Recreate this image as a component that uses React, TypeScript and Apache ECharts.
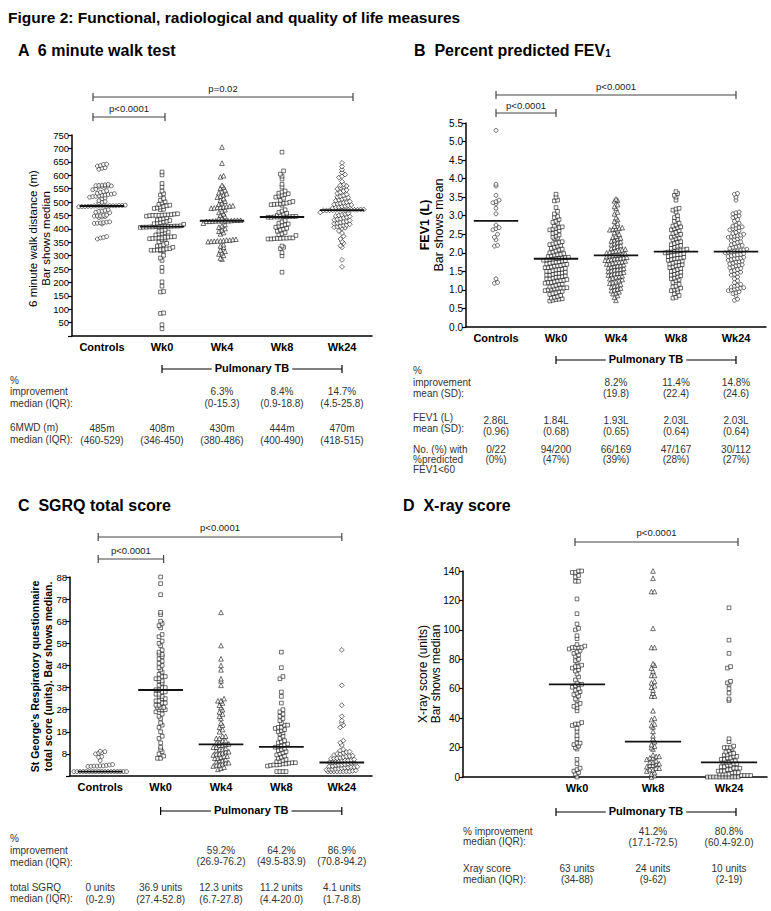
import React, { useEffect, useRef } from 'react';
import * as echarts from 'echarts';

const FONT = '"Liberation Sans", Arial, Helvetica, sans-serif';

// ---------- Categories ----------
const CATS_5 = ['Controls', 'Wk0', 'Wk4', 'Wk8', 'Wk24'];
const CATS_D = ['', 'Wk0', 'Wk8', 'Wk24'];

// ---------- Panel A: 6 minute walk distance (m) ----------
const A_CONTROLS = [640, 636, 628, 622, 626, 634, 641, 566, 563, 561, 560, 558, 562, 564, 559, 556, 560, 546, 542, 548, 536, 539, 531, 528, 526, 523, 520, 525, 529, 532, 518, 515, 521, 512, 502, 505, 497, 499, 487, 485, 485, 486, 484, 483, 485, 487, 488, 485, 484, 486, 483, 482, 485, 486, 471, 468, 466, 462, 460, 465, 451, 448, 446, 447, 444, 450, 442, 448, 426, 422, 420, 421, 423, 425, 418, 371, 366, 362, 368];
const A_WK0 = [612, 601, 569, 556, 541, 531, 526, 513, 506, 501, 497, 491, 488, 486, 483, 481, 478, 476, 473, 471, 456, 453, 451, 450, 449, 452, 455, 450, 447, 452, 450, 441, 438, 436, 433, 431, 428, 426, 423, 421, 419, 417, 411, 409, 408, 407, 406, 408, 410, 409, 405, 408, 407, 406, 409, 410, 396, 393, 391, 388, 386, 383, 381, 377, 371, 369, 366, 363, 361, 365, 368, 370, 366, 364, 360, 351, 346, 341, 338, 336, 331, 326, 323, 321, 319, 320, 322, 325, 318, 320, 301, 291, 282, 256, 241, 202, 186, 166, 164, 86, 84, 42, 27];
const A_WK4 = [705, 645, 598, 594, 562, 556, 552, 545, 539, 535, 531, 527, 522, 518, 513, 507, 503, 497, 492, 486, 483, 481, 478, 480, 482, 485, 477, 471, 466, 461, 456, 451, 446, 441, 438, 432, 430, 430, 428, 430, 432, 428, 430, 431, 429, 430, 432, 421, 416, 411, 406, 401, 396, 391, 386, 381, 361, 358, 356, 355, 352, 354, 358, 360, 355, 353, 341, 336, 331, 321, 316, 311, 306, 301, 291, 287];
const A_WK8 = [686, 616, 604, 596, 586, 566, 556, 541, 537, 533, 531, 528, 525, 522, 518, 514, 506, 502, 499, 496, 493, 490, 488, 492, 495, 491, 471, 466, 461, 458, 455, 452, 450, 446, 445, 444, 443, 445, 444, 446, 443, 444, 445, 431, 426, 421, 418, 415, 412, 410, 406, 402, 399, 396, 391, 386, 381, 378, 375, 366, 364, 362, 365, 363, 364, 362, 365, 366, 336, 331, 326, 311, 299, 238];
const A_WK24 = [765, 646, 632, 621, 610, 602, 596, 591, 576, 566, 562, 560, 557, 553, 549, 545, 541, 536, 532, 528, 524, 521, 519, 517, 514, 511, 508, 505, 502, 499, 497, 495, 493, 491, 489, 487, 485, 483, 481, 479, 477, 472, 471, 470, 470, 469, 471, 470, 468, 472, 470, 469, 471, 470, 468, 461, 458, 455, 452, 450, 448, 446, 444, 441, 438, 436, 433, 431, 428, 426, 423, 421, 419, 417, 414, 412, 410, 408, 406, 404, 402, 392, 384, 372, 362, 352, 346, 337, 331, 284, 258];
const A_BARS = [485, 408, 430, 444, 470];
const A_IMPROVE = ['', '', '6.3%', '8.4%', '14.7%'];
const A_IMPROVE_IQR = ['', '', '(0-15.3)', '(0.9-18.8)', '(4.5-25.8)'];
const A_MED = ['485m', '408m', '430m', '444m', '470m'];
const A_MED_IQR = ['(460-529)', '(346-450)', '(380-486)', '(400-490)', '(418-515)'];

// ---------- Panel B: FEV1 (L) ----------
const B_CONTROLS = [5.3, 3.85, 3.8, 3.55, 3.42, 3.38, 3.35, 3.32, 3.2, 3.05, 2.75, 2.68, 2.62, 2.5, 2.42, 2.35, 2.2, 2.18, 1.3, 1.2, 1.18, 2.65];
const B_WK0 = [3.58, 3.5, 3.42, 3.4, 3.22, 3.12, 3.05, 2.98, 2.95, 2.9, 2.85, 2.82, 2.8, 2.72, 2.7, 2.68, 2.66, 2.64, 2.62, 2.6, 2.55, 2.52, 2.48, 2.45, 2.42, 2.4, 2.38, 2.3, 2.28, 2.26, 2.24, 2.22, 2.2, 2.18, 2.15, 2.12, 2.1, 2.08, 2.05, 2.02, 2.0, 1.98, 1.96, 1.95, 1.94, 1.92, 1.9, 1.88, 1.87, 1.86, 1.85, 1.84, 1.83, 1.82, 1.81, 1.8, 1.79, 1.78, 1.76, 1.75, 1.74, 1.72, 1.7, 1.69, 1.68, 1.66, 1.65, 1.64, 1.62, 1.6, 1.6, 1.58, 1.56, 1.55, 1.54, 1.52, 1.5, 1.5, 1.48, 1.46, 1.45, 1.44, 1.42, 1.4, 1.4, 1.38, 1.36, 1.35, 1.34, 1.32, 1.3, 1.3, 1.28, 1.26, 1.25, 1.24, 1.22, 1.2, 1.2, 1.18, 1.16, 1.15, 1.12, 1.1, 1.08, 1.06, 1.05, 1.05, 1.04, 1.03, 1.02, 1.0, 0.98, 0.96, 0.95, 0.92, 0.9, 0.88, 0.85, 0.82, 0.8, 0.78, 0.76, 0.75, 0.74, 0.72, 0.7];
const B_WK4 = [3.45, 3.42, 3.4, 3.3, 3.25, 3.2, 3.1, 3.05, 2.95, 2.9, 2.85, 2.8, 2.72, 2.68, 2.66, 2.65, 2.64, 2.62, 2.6, 2.55, 2.5, 2.45, 2.42, 2.4, 2.38, 2.35, 2.32, 2.3, 2.28, 2.25, 2.22, 2.2, 2.18, 2.15, 2.12, 2.1, 2.08, 2.06, 2.05, 2.04, 2.02, 2.0, 1.98, 1.96, 1.95, 1.94, 1.93, 1.92, 1.9, 1.88, 1.87, 1.86, 1.85, 1.84, 1.82, 1.8, 1.8, 1.78, 1.76, 1.75, 1.74, 1.72, 1.7, 1.7, 1.68, 1.66, 1.65, 1.64, 1.62, 1.6, 1.58, 1.56, 1.55, 1.54, 1.52, 1.5, 1.48, 1.46, 1.45, 1.44, 1.42, 1.4, 1.38, 1.36, 1.35, 1.32, 1.3, 1.28, 1.25, 1.22, 1.2, 1.18, 1.15, 1.12, 1.1, 1.08, 1.05, 1.02, 1.0, 0.98, 0.95, 0.92, 0.9, 0.85, 0.8, 0.72];
const B_WK8 = [3.65, 3.6, 3.55, 3.5, 3.42, 3.2, 3.18, 3.15, 3.1, 3.0, 2.95, 2.9, 2.85, 2.8, 2.75, 2.72, 2.7, 2.68, 2.65, 2.62, 2.6, 2.55, 2.52, 2.5, 2.48, 2.45, 2.42, 2.4, 2.38, 2.35, 2.3, 2.28, 2.25, 2.22, 2.2, 2.18, 2.15, 2.12, 2.1, 2.08, 2.06, 2.05, 2.04, 2.03, 2.02, 2.0, 1.98, 1.96, 1.95, 1.94, 1.92, 1.9, 1.88, 1.86, 1.85, 1.84, 1.82, 1.8, 1.78, 1.76, 1.75, 1.72, 1.7, 1.68, 1.66, 1.65, 1.62, 1.6, 1.58, 1.55, 1.52, 1.5, 1.48, 1.45, 1.42, 1.4, 1.38, 1.35, 1.32, 1.3, 1.28, 1.25, 1.2, 1.15, 1.1, 1.08, 1.05, 1.02, 1.0, 0.98, 0.95, 0.9, 0.85, 0.8, 0.78];
const B_WK24 = [3.6, 3.58, 3.5, 3.42, 3.1, 3.08, 3.05, 3.0, 2.98, 2.95, 2.9, 2.85, 2.8, 2.75, 2.72, 2.7, 2.68, 2.66, 2.65, 2.62, 2.6, 2.55, 2.52, 2.5, 2.48, 2.46, 2.45, 2.44, 2.42, 2.4, 2.38, 2.35, 2.32, 2.3, 2.28, 2.25, 2.22, 2.2, 2.18, 2.16, 2.15, 2.12, 2.1, 2.08, 2.06, 2.05, 2.04, 2.03, 2.02, 2.0, 1.98, 1.96, 1.95, 1.94, 1.92, 1.9, 1.88, 1.86, 1.85, 1.84, 1.82, 1.8, 1.78, 1.76, 1.75, 1.72, 1.7, 1.68, 1.66, 1.65, 1.62, 1.6, 1.58, 1.55, 1.52, 1.5, 1.48, 1.45, 1.42, 1.4, 1.35, 1.3, 1.25, 1.2, 1.15, 1.12, 1.1, 1.08, 1.06, 1.05, 1.04, 1.02, 1.0, 0.98, 0.95, 0.92, 0.9, 0.85, 0.75, 0.72];
const B_BARS = [2.86, 1.84, 1.93, 2.03, 2.03];
const B_IMPROVE = ['', '', '8.2%', '11.4%', '14.8%'];
const B_IMPROVE_SD = ['', '', '(19.8)', '(22.4)', '(24.6)'];
const B_MEAN = ['2.86L', '1.84L', '1.93L', '2.03L', '2.03L'];
const B_MEAN_SD = ['(0.96)', '(0.68)', '(0.65)', '(0.64)', '(0.64)'];
const B_LOW = ['0/22', '94/200', '66/169', '47/167', '30/112'];
const B_LOW_PCT = ['(0%)', '(47%)', '(39%)', '(28%)', '(27%)'];

// ---------- Panel C: SGRQ total score ----------
const C_CONTROLS = [9, 8.5, 8, 8.3, 9.2, 6.5, 6.8, 5, 3, 2.6, 2.4, 2.5, 2.3, 2.5, 2.6, 2.8, 3.2, 0, 0, 0, 0, 0, 0, 0, 0, 0, 0, 0, 0, 0, 0, 0, 0, 0, 0];
const C_WK0 = [88, 85, 80, 72, 71, 68, 67, 66, 65, 62, 61, 59, 58, 57, 55, 54, 53, 53, 52, 51, 50, 49, 48, 47, 46, 45, 44, 43, 43, 42, 42, 41, 41, 40, 39, 38, 38, 37, 37, 36, 36, 35, 35, 34, 34, 33, 33, 32, 32, 31, 31, 30, 30, 29, 29, 29, 28, 28, 28, 27, 26, 25, 24, 22, 21, 20, 18, 16, 15, 13, 11, 10, 9, 8, 7, 6, 6];
const C_WK4 = [72, 57, 51, 48, 46, 42, 41, 39, 33, 32, 32, 31, 30, 29, 28, 27, 26, 25, 24, 22, 21, 20, 19, 18, 16, 16, 15, 15, 14, 14, 13, 13, 12.5, 12.3, 12, 12, 11, 11, 10.5, 10, 10, 9.5, 9, 9, 8.5, 8, 8, 7.5, 7, 7, 6.5, 6, 6, 5.5, 5, 5, 4.5, 4, 4, 3.5, 3, 3, 2.5, 2, 1.5, 1];
const C_WK8 = [54, 47, 43, 42, 36, 34, 31, 28, 27, 26, 25, 24, 23, 22, 21, 21, 20, 20, 19.5, 19, 18.5, 18, 17.5, 17, 16, 15, 14, 13.5, 13, 12.5, 12, 11.5, 11.2, 11, 10.5, 10, 9.5, 9, 8.5, 8, 7.5, 7, 6.5, 6, 5.5, 5, 4.5, 4.5, 4, 4, 3.8, 3.5, 3.5, 3.2, 3, 3, 2.8, 2.5, 0, 0, 0, 0];
const C_WK24 = [55, 39, 30, 25, 23, 22, 21, 20, 14, 13, 12, 10, 9.5, 9, 8.8, 8.5, 8, 8, 7.5, 7.2, 7, 6.8, 6.5, 6.2, 6, 6, 5.8, 5.5, 5.2, 5, 5, 4.8, 4.5, 4.3, 4.1, 4.1, 4, 3.8, 3.5, 3.3, 3, 3, 2.8, 2.5, 2.4, 2.2, 2, 2, 1.8, 1.7, 1.5, 1.3, 1.2, 1, 1, 0.8, 0.5, 0.3, 0, 0, 0, 0, 0, 0, 0, 0];
const C_BARS = [0, 36.9, 12.3, 11.2, 4.1];
const C_IMPROVE = ['', '', '59.2%', '64.2%', '86.9%'];
const C_IMPROVE_IQR = ['', '', '(26.9-76.2)', '(49.5-83.9)', '(70.8-94.2)'];
const C_MED = ['0 units', '36.9 units', '12.3 units', '11.2 units', '4.1 units'];
const C_MED_IQR = ['(0-2.9)', '(27.4-52.8)', '(6.7-27.8)', '(4.4-20.0)', '(1.7-8.8)'];

// ---------- Panel D: X-ray score ----------
const D_WK0 = [140, 140, 139, 139, 137, 136, 133, 133, 121, 111, 104, 101, 100, 96, 94, 90, 89, 88, 88, 88, 88, 87, 86, 85, 84, 83, 82, 80, 79, 78, 76, 75, 75, 74, 73, 72, 70, 68, 66, 64, 63, 63, 62, 61, 60, 59, 58, 57, 56, 55, 53, 52, 50, 49, 48, 47, 45, 37, 36, 36, 35, 33, 31, 28, 26, 23, 23, 22, 21, 20, 19, 12, 9, 6, 5, 4, 3, 2, 0];
const D_WK8 = [140, 135, 126, 126, 101, 88, 88, 77, 76, 74, 72, 69, 69, 65, 64, 62, 61, 59, 57, 55, 55, 45, 40, 39, 36, 35, 34, 31, 28, 26, 24, 22, 21, 20, 19, 15, 14, 14, 13, 13, 12, 11, 10, 10, 9, 9, 8, 8, 7, 6, 6, 5, 5, 4, 3, 2, 1, 0];
const D_WK24 = [115, 93, 84, 75, 74, 65, 64, 63, 60, 57, 53, 52, 26, 24, 21, 20, 20, 20, 19, 18, 17, 16, 16, 15, 15, 14, 14, 13, 13, 12, 12, 11, 11, 10, 10, 10, 9, 9, 8, 8, 7, 7, 6, 6, 6, 5, 5, 4, 4, 4, 3, 3, 3, 2, 2, 2, 2, 1, 1, 1, 1, 0, 0, 0, 0, 0, 0, 0, 0, 0, 0, 0];
const D_BARS = [63, 24, 10];
const D_IMPROVE = ['', '', '41.2%', '80.8%'];
const D_IMPROVE_IQR = ['', '', '(17.1-72.5)', '(60.4-92.0)'];
const D_MED = ['', '63 units', '24 units', '10 units'];
const D_MED_IQR = ['', '(34-88)', '(9-62)', '(2-19)'];

type Panel = {
  left: number; top: number; width: number; height: number;
  cats: string[]; yMin: number; yMax: number; yInterval: number;
  groups: { idx: number; vals: number[]; symbol: string }[];
  bars: { idx: number; v: number }[];
  fmt: (v: number) => string;
  tickFont: number;
  tickFilter?: (i: number) => boolean;
};

const PANELS: Panel[] = [
  {
    left: 72, top: 135, width: 300, height: 201, cats: CATS_5, yMin: 0, yMax: 750, yInterval: 50,
    groups: [
      { idx: 0, vals: A_CONTROLS, symbol: 'circle' },
      { idx: 1, vals: A_WK0, symbol: 'rect' },
      { idx: 2, vals: A_WK4, symbol: 'triangle' },
      { idx: 3, vals: A_WK8, symbol: 'rect' },
      { idx: 4, vals: A_WK24, symbol: 'diamond' },
    ],
    bars: A_BARS.map((v, i) => ({ idx: i, v })),
    fmt: (v) => (v === 0 ? '' : String(v)),
    tickFont: 9.5,
  },
  {
    left: 466, top: 123, width: 300, height: 204, cats: CATS_5, yMin: 0, yMax: 5.5, yInterval: 0.5,
    groups: [
      { idx: 0, vals: B_CONTROLS, symbol: 'circle' },
      { idx: 1, vals: B_WK0, symbol: 'rect' },
      { idx: 2, vals: B_WK4, symbol: 'triangle' },
      { idx: 3, vals: B_WK8, symbol: 'rect' },
      { idx: 4, vals: B_WK24, symbol: 'circle' },
    ],
    bars: B_BARS.map((v, i) => ({ idx: i, v })),
    fmt: (v) => v.toFixed(1),
    tickFont: 10,
  },
  {
    left: 70, top: 577, width: 302, height: 199, cats: CATS_5, yMin: -2, yMax: 88, yInterval: 10,
    groups: [
      { idx: 0, vals: C_CONTROLS, symbol: 'circle' },
      { idx: 1, vals: C_WK0, symbol: 'rect' },
      { idx: 2, vals: C_WK4, symbol: 'triangle' },
      { idx: 3, vals: C_WK8, symbol: 'rect' },
      { idx: 4, vals: C_WK24, symbol: 'diamond' },
    ],
    bars: C_BARS.map((v, i) => ({ idx: i, v })),
    fmt: (v) => (v < 0 ? '' : String(Math.round(v))),
    tickFont: 9.5,
  },
  {
    left: 463, top: 571, width: 304, height: 206, cats: CATS_D, yMin: 0, yMax: 140, yInterval: 20,
    groups: [
      { idx: 1, vals: D_WK0, symbol: 'rect' },
      { idx: 2, vals: D_WK8, symbol: 'triangle' },
      { idx: 3, vals: D_WK24, symbol: 'rect' },
    ],
    bars: D_BARS.map((v, i) => ({ idx: i + 1, v })),
    fmt: (v) => String(v),
    tickFont: 10,
    tickFilter: (i) => i !== 0,
  },
];

const SYMBOL_SIZE: Record<string, number> = { circle: 3.9, rect: 3.7, triangle: 4.6, diamond: 4.9 };

function catX(p: Panel, i: number) {
  return p.left + ((i + 0.5) * p.width) / p.cats.length;
}

// Prism-like column scatter: points are grouped into pixel rows and spread sideways.
function swarm(p: Panel, idx: number, vals: number[]) {
  const pxPerUnit = p.height / (p.yMax - p.yMin);
  const band = p.width / p.cats.length;
  const rowH = 3.8;
  const colW = 3.1;
  const bins = new Map<number, number[]>();
  vals.slice().sort((a, b) => a - b).forEach((v) => {
    const k = Math.round(((v - p.yMin) * pxPerUnit) / rowH);
    if (!bins.has(k)) bins.set(k, []);
    bins.get(k)!.push(v);
  });
  const out: number[][] = [];
  bins.forEach((arr) => {
    arr.forEach((v, i) => {
      const off = ((i - (arr.length - 1) / 2) * colW) / band;
      out.push([idx + off, v]);
    });
  });
  return out;
}

function buildOption() {
  const grid: any[] = [];
  const xAxis: any[] = [];
  const yAxis: any[] = [];
  const series: any[] = [];
  PANELS.forEach((p, k) => {
    grid.push({ left: p.left, top: p.top, width: p.width, height: p.height, containLabel: false, outerBoundsMode: 'none' });
    xAxis.push({
      type: 'category', gridIndex: k, data: p.cats, position: 'bottom',
      axisLine: { onZero: false, lineStyle: { color: '#000', width: 1.5 } },
      axisTick: { alignWithLabel: true, length: 4, lineStyle: { color: '#000', width: 1.2 }, interval: p.tickFilter ? (i: number) => p.tickFilter!(i) : 0 },
      axisLabel: { fontFamily: FONT, fontWeight: 'bold', fontSize: 11, color: '#000', margin: 5, interval: 0 },
      splitLine: { show: false },
    });
    xAxis.push({ type: 'value', gridIndex: k, min: -0.5, max: p.cats.length - 0.5, show: false });
    yAxis.push({
      type: 'value', gridIndex: k, min: p.yMin, max: p.yMax, interval: p.yInterval,
      axisLine: { show: true, onZero: false, lineStyle: { color: '#000', width: 1.5 } },
      axisTick: { show: true, length: 4, lineStyle: { color: '#000', width: 1.2 } },
      axisLabel: { fontFamily: FONT, fontSize: p.tickFont, color: '#000', margin: 3, formatter: p.fmt },
      splitLine: { show: false },
    });
    p.groups.forEach((g) => {
      series.push({
        type: 'scatter', xAxisIndex: 2 * k + 1, yAxisIndex: k, silent: true, z: 2,
        symbol: g.symbol, symbolSize: SYMBOL_SIZE[g.symbol],
        itemStyle: { color: '#fff', borderColor: '#000', borderWidth: 0.7 },
        data: swarm(p, g.idx, g.vals),
      });
    });
    p.bars.forEach((b) => {
      series.push({
        type: 'line', xAxisIndex: 2 * k + 1, yAxisIndex: k, silent: true, z: 3,
        symbol: 'none', lineStyle: { color: '#111', width: 1.8 },
        data: [[b.idx - 0.37, b.v], [b.idx + 0.37, b.v]],
      });
    });
  });

  const g: any[] = [];
  const text = (x: number, y: number, t: string, size: number, o: any = {}) => {
    g.push({
      type: 'text', x, y, rotation: o.rot || 0, silent: true,
      style: {
        text: t, font: `${o.bold ? 'bold ' : ''}${size}px ${FONT}`, fill: o.color || '#000',
        textAlign: o.align || 'left', textVerticalAlign: 'middle',
        backgroundColor: o.bg, padding: o.bg ? [0, 3] : undefined, rich: o.rich,
      },
    });
  };
  const line = (x1: number, y1: number, x2: number, y2: number, color = '#222', w = 1.2) => {
    g.push({ type: 'line', silent: true, shape: { x1, y1, x2, y2 }, style: { stroke: color, lineWidth: w } });
  };
  const bracket = (x1: number, x2: number, y: number, label: string, ty: number) => {
    line(x1, y, x2, y, '#444', 1.2);
    line(x1, y - 4, x1, y + 4, '#444', 1.2);
    line(x2, y - 4, x2, y + 4, '#444', 1.2);
    text((x1 + x2) / 2, ty, label, 9.5, { align: 'center', color: '#222' });
  };
  const tbBracket = (x1: number, x2: number, y: number) => {
    line(x1, y, x2, y, '#000', 1.2);
    line(x1, y - 4, x1, y + 4, '#000', 1.2);
    line(x2, y - 4, x2, y + 4, '#000', 1.2);
    text((x1 + x2) / 2, y - 1, 'Pulmonary TB', 11, { bold: true, align: 'center', bg: '#fff' });
  };
  const row = (p: Panel, y1: number, y2: number, r1: string[], r2: string[]) => {
    r1.forEach((t, i) => { if (t) text(catX(p, i), y1, t, 10, { align: 'center', color: '#333' }); });
    r2.forEach((t, i) => { if (t) text(catX(p, i), y2, t, 10, { align: 'center', color: '#333' }); });
  };
  const labels = (x: number, ys: number[], lines: string[]) => {
    lines.forEach((t, i) => text(x, ys[i], t, 10, { color: '#333' }));
  };

  const [PA, PB, PC, PD] = PANELS;

  // Titles
  text(8, 17, 'Figure 2: Functional, radiological and quality of life measures', 15.5, { bold: true });
  text(18, 50, 'A  6 minute walk test', 16, { bold: true });
  text(414, 50, '{m|B  Percent predicted FEV}{s|1}', 16, {
    bold: true,
    rich: { m: { font: `bold 16px ${FONT}` }, s: { font: `bold 10px ${FONT}`, verticalAlign: 'bottom', padding: [6, 0, 0, 0] } },
  });
  text(18, 505, 'C  SGRQ total score', 16, { bold: true });
  text(403, 505, 'D  X-ray score', 16, { bold: true });

  // Y axis titles
  const mid = (p: Panel) => p.top + p.height / 2;
  text(33, mid(PA) + 3, '6 minute walk distance (m)', 11.5, { rot: Math.PI / 2, align: 'center' });
  text(46, mid(PA) + 3, 'Bar shows median', 11.5, { rot: Math.PI / 2, align: 'center' });
  text(425, mid(PB), 'FEV1 (L)', 12.5, { rot: Math.PI / 2, align: 'center', bold: true });
  text(439, mid(PB), 'Bar shows mean', 12.5, { rot: Math.PI / 2, align: 'center' });
  text(35, mid(PC), "St George's Respiratory questionnaire", 10.5, { rot: Math.PI / 2, align: 'center', bold: true });
  text(48, mid(PC), 'total score (units). Bar shows median.', 10.5, { rot: Math.PI / 2, align: 'center', bold: true });
  text(423, mid(PD), 'X-ray score (units)', 12, { rot: Math.PI / 2, align: 'center' });
  text(436, mid(PD), 'Bar shows median', 12, { rot: Math.PI / 2, align: 'center' });

  // p-value brackets
  bracket(catX(PA, 0) - 9, catX(PA, 4) + 11, 97, 'p=0.02', 88);
  bracket(catX(PA, 0) - 9, catX(PA, 1) + 3, 117, 'p<0.0001', 108);
  bracket(catX(PB, 0), catX(PB, 4), 95, 'p<0.0001', 86);
  bracket(catX(PB, 0), catX(PB, 1), 113, 'p<0.0001', 105);
  bracket(catX(PC, 0) - 2, catX(PC, 4), 537, 'p<0.0001', 527);
  bracket(catX(PC, 0) - 2, catX(PC, 1) + 3, 559, 'p<0.0001', 550);
  bracket(catX(PD, 1) - 2, catX(PD, 3) + 9, 542, 'p<0.0001', 532);

  // Pulmonary TB brackets
  tbBracket(catX(PA, 1), catX(PA, 4), 369);
  tbBracket(catX(PB, 1), catX(PB, 4), 360);
  tbBracket(catX(PC, 1), catX(PC, 4), 811);
  tbBracket(catX(PB, 1), catX(PB, 4), 812);

  // Tables
  labels(10, [380, 391, 403], ['%', 'improvement', 'median (IQR):']);
  row(PA, 391, 403, A_IMPROVE, A_IMPROVE_IQR);
  labels(10, [427, 439], ['6MWD (m)', 'median (IQR):']);
  row(PA, 428, 440, A_MED, A_MED_IQR);

  labels(413, [370, 382, 393], ['%', 'improvement', 'mean (SD):']);
  row(PB, 382, 393, B_IMPROVE, B_IMPROVE_SD);
  labels(413, [417, 428], ['FEV1 (L)', 'mean (SD):']);
  row(PB, 420, 431, B_MEAN, B_MEAN_SD);
  labels(413, [449, 459, 469], ['No. (%) with', '%predicted', 'FEV1<60']);
  row(PB, 449, 459, B_LOW, B_LOW_PCT);

  labels(10, [838, 850, 862], ['%', 'improvement', 'median (IQR):']);
  row(PC, 850, 861, C_IMPROVE, C_IMPROVE_IQR);
  labels(10, [887, 898], ['total SGRQ', 'median (IQR):']);
  row(PC, 887, 899, C_MED, C_MED_IQR);

  labels(463, [831, 841], ['% improvement', 'median (IQR):']);
  row(PD, 831, 842, D_IMPROVE, D_IMPROVE_IQR);
  labels(463, [868, 879], ['Xray score', 'median (IQR):']);
  row(PD, 868, 879, D_MED, D_MED_IQR);

  return { animation: false, backgroundColor: '#fff', grid, xAxis, yAxis, series, graphic: { elements: g } };
}

export default function App() {
  const ref = useRef<HTMLDivElement>(null);
  useEffect(() => {
    if (!ref.current) return;
    const chart = echarts.init(ref.current, null, { renderer: 'svg' });
    chart.setOption(buildOption() as any);
    return () => chart.dispose();
  }, []);
  return <div ref={ref} style={{ position: 'absolute', left: 0, top: 0, width: 771, height: 911, background: '#fff' }} />;
}
